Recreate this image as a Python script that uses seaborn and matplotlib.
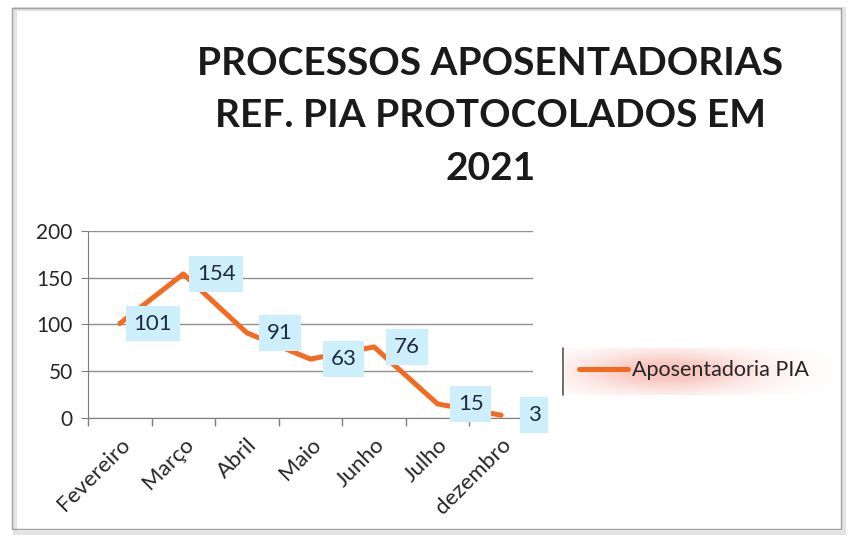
import matplotlib
matplotlib.use('Agg')
import matplotlib.pyplot as plt
import matplotlib.patches as patches
from matplotlib.lines import Line2D
from matplotlib.ticker import FixedLocator
import seaborn as sns
import pandas as pd
import numpy as np

# Data
months = ['Fevereiro', 'Março', 'Abril', 'Maio', 'Junho', 'Julho', 'dezembro']
values = [101, 154, 91, 63, 76, 15, 3]
series_name = 'Aposentadoria PIA'
title = 'PROCESSOS APOSENTADORIAS\nREF. PIA PROTOCOLADOS EM\n2021'

sns.set_style('white')
plt.rcParams['font.family'] = ['Lato', 'DejaVu Sans']

df = pd.DataFrame({'mes': months, 'qtd': values})
df['pos'] = range(len(df))

fig = plt.figure(figsize=(8.5, 5.39), dpi=100)
ax = fig.add_axes([0.1035, 0.2245, 0.5235, 0.347])

# outer chart frame with light shadow
fig.patches.append(patches.Rectangle((0.018, 0.012), 0.975, 0.972, transform=fig.transFigure,
                                     fill=False, edgecolor='#e3e3e3', linewidth=3, zorder=0))
fig.patches.append(patches.Rectangle((0.014, 0.018), 0.975, 0.968, transform=fig.transFigure,
                                     fill=False, edgecolor='#a0a0a0', linewidth=1.0, zorder=1))

sns.lineplot(data=df, x='pos', y='qtd', ax=ax, color='#f26b21', linewidth=3.6,
             label=series_name, legend=False)

# data labels on light blue boxes, to the right of each point
for x, v in zip(df['pos'], df['qtd']):
    ax.text(x + 0.52, v, str(v), ha='center', va='center', fontsize=16, color='#1f2a44',
            bbox=dict(boxstyle='square,pad=0.35', facecolor='#cdeffb', edgecolor='none'),
            zorder=5, clip_on=False)

ax.set_xlim(-0.5, len(months) - 0.5)
ax.set_ylim(0, 200)
ax.set_yticks([0, 50, 100, 150, 200])
ax.yaxis.grid(True, color='#8f8f8f', linewidth=1)
ax.set_xticks(df['pos'])
ax.set_xticklabels(months, rotation=45, ha='right', rotation_mode='anchor', fontsize=16)
ax.xaxis.set_minor_locator(FixedLocator([i - 0.5 for i in range(len(months) + 1)]))
ax.tick_params(axis='x', which='major', length=0, pad=12)
ax.tick_params(axis='x', which='minor', length=6, color='#7f7f7f', width=1, bottom=True)
ax.tick_params(axis='y', length=5, color='#7f7f7f', left=True, labelsize=15, pad=6)
ax.set_xlabel('')
ax.set_ylabel('')
for side in ['top', 'right']:
    ax.spines[side].set_visible(False)
ax.spines['left'].set_color('#7f7f7f')
ax.spines['bottom'].set_color('#7f7f7f')

fig.text(0.577, 0.785, title, ha='center', va='center', fontsize=28, fontweight='bold',
         color='#1a1a1a', linespacing=1.6)

# soft pink glow behind the legend
gax = fig.add_axes([0.665, 0.268, 0.315, 0.087], zorder=0)
gx = np.linspace(0, 1, 200)
gy = np.linspace(-1, 1, 40)
GX, GY = np.meshgrid(gx, gy)
glow = np.exp(-((GX - 0.38) / 0.33) ** 2) * np.exp(-(GY / 0.9) ** 2)
rgba = np.zeros(glow.shape + (4,))
rgba[..., 0] = 0.95
rgba[..., 1] = 0.55
rgba[..., 2] = 0.50
rgba[..., 3] = 0.55 * glow
gax.imshow(rgba, aspect='auto', extent=(0, 1, 0, 1))
gax.axis('off')

leg = fig.legend(handles=[Line2D([0], [0], color='#f26b21', linewidth=3.6)], labels=[series_name],
                 loc='center left', bbox_to_anchor=(0.658, 0.313), frameon=False, fontsize=15.5,
                 handlelength=2.3, handletextpad=0.2, borderpad=0.4)
leg.set_zorder(3)
fig.add_artist(Line2D([0.662, 0.662], [0.268, 0.355], transform=fig.transFigure,
                      color='#555555', linewidth=1.2))

fig.savefig('out.png', dpi=100, facecolor='white')
